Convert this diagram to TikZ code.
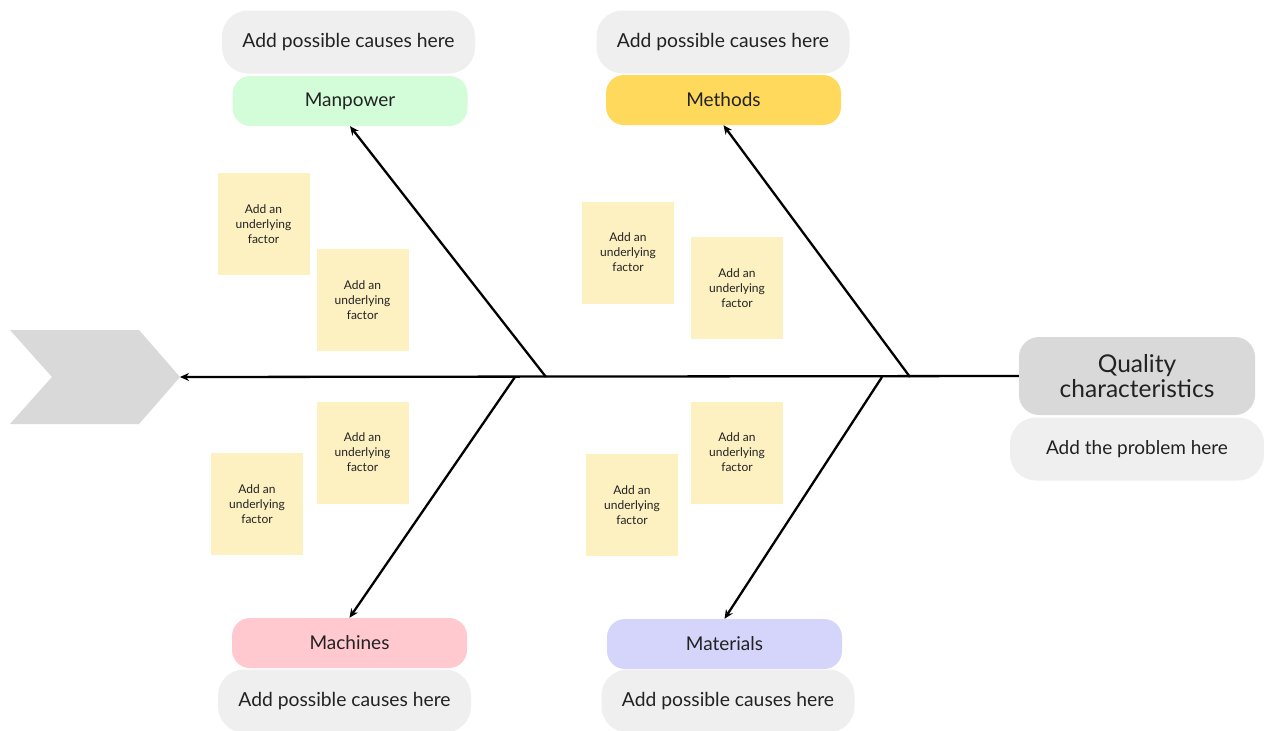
\documentclass[tikz,border=0pt]{standalone}
\usepackage{fontspec}
\setmainfont{Lato}
\usetikzlibrary{arrows.meta}
\definecolor{txt}{HTML}{222222}
\definecolor{causefill}{HTML}{EFEFEF}
\definecolor{qualfill}{HTML}{D9D9D9}
\definecolor{notefill}{HTML}{FDF1C2}
\definecolor{mpfill}{HTML}{D3FCD8}
\definecolor{mtfill}{HTML}{FFD95B}
\definecolor{mcfill}{HTML}{FFC9CF}
\definecolor{mafill}{HTML}{D5D5FC}
\definecolor{chevfill}{HTML}{D9D9D9}
\begin{document}
\begin{tikzpicture}[x=1pt,y=-1pt,
  causebox/.style={rectangle, rounded corners=26pt, fill=causefill, text=txt,
    minimum width=253pt, minimum height=63pt, inner sep=0pt, font=\fontsize{19.3}{23}\selectfont},
  catbox/.style={rectangle, rounded corners=18pt, text=txt,
    minimum width=235pt, minimum height=50pt, inner sep=0pt, font=\fontsize{19}{23}\selectfont},
  notebox/.style={rectangle, fill=notefill, text=txt, align=center,
    minimum width=92pt, minimum height=102pt, inner sep=0pt, font=\fontsize{12}{15}\selectfont},
  bone/.style={line width=2.3pt, draw=black, -{Stealth[length=9pt,width=8pt]}}]
\useasboundingbox (0,0) rectangle (1264,731);
\fill[white] (0,0) rectangle (1264,731);

% head of the fish: problem statement
\node[rectangle, rounded corners=20pt, fill=qualfill, text=txt, align=center,
  minimum width=236pt, minimum height=78pt, inner sep=0pt,
  font=\fontsize{24.5}{25}\selectfont] (q) at (1137,376) {Quality\\characteristics};
\node[causebox, minimum width=254pt, font=\fontsize{19}{23}\selectfont] (prob) at (1137,449) {Add the problem here};

% tail chevron
\fill[chevfill] (10,330) -- (139,330) -- (180,377) -- (139,424) -- (10,424) -- (52,377) -- cycle;
\coordinate (tail) at (180,377);

% spine
\draw[bone] (q.west) -- (tail);

% categories
\node[causebox] (mpc) at (348.5,42) {Add possible causes here};
\node[catbox, fill=mpfill] (mp) at (350,101) {Manpower};
\node[causebox] (mtc) at (723,42) {Add possible causes here};
\node[catbox, fill=mtfill] (mt) at (723.5,100) {Methods};
\node[catbox, fill=mcfill] (mc) at (349.5,643) {Machines};
\node[causebox] (mcc) at (344.5,701) {Add possible causes here};
\node[catbox, fill=mafill] (ma) at (724.5,644) {Materials};
\node[causebox] (mac) at (728,701) {Add possible causes here};

% bones
\coordinate (b1) at (546,377);
\coordinate (b2) at (910,377);
\coordinate (b3) at (515,377);
\coordinate (b4) at (882,377);
\draw[bone] (b1) -- (mp.south);
\draw[bone] (b2) -- (mt.south);
\draw[bone] (b3) -- (mc.north);
\draw[bone] (b4) -- (ma.north);

% underlying factors
\node[notebox] (n1) at (263.5,224) {Add an\\underlying\\factor};
\node[notebox] (n2) at (362.5,300) {Add an\\underlying\\factor};
\node[notebox] (n3) at (628,252.5) {Add an\\underlying\\factor};
\node[notebox] (n4) at (737,288) {Add an\\underlying\\factor};
\node[notebox] (n5) at (362.5,452.5) {Add an\\underlying\\factor};
\node[notebox] (n6) at (257,504) {Add an\\underlying\\factor};
\node[notebox] (n7) at (737,452.5) {Add an\\underlying\\factor};
\node[notebox] (n8) at (632,505) {Add an\\underlying\\factor};
\end{tikzpicture}
\end{document}
